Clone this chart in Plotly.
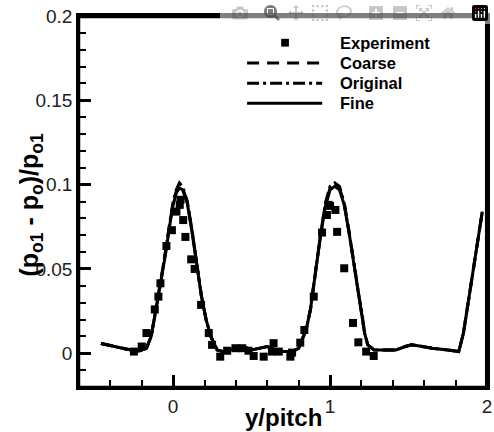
import plotly.graph_objects as go

# ---- data ----
fine_x = [-0.46, -0.4, -0.3, -0.22, -0.17, -0.14, -0.11, -0.08, -0.05, -0.02, 0.0, 0.02, 0.04, 0.06,
          0.09, 0.12, 0.15, 0.18, 0.21, 0.24, 0.28, 0.32, 0.4, 0.45, 0.5, 0.55, 0.6, 0.65, 0.7, 0.76,
          0.8, 0.83, 0.85, 0.875, 0.894, 0.91, 0.94, 0.97, 1.0, 1.03, 1.06, 1.09, 1.12, 1.157, 1.18,
          1.2, 1.22, 1.24, 1.28, 1.35, 1.42, 1.48, 1.52, 1.56, 1.65, 1.75, 1.82, 1.85, 1.895, 1.93, 1.97]
fine_y = [0.0058, 0.0045, 0.0025, 0.0012, 0.003, 0.01, 0.026, 0.04, 0.058, 0.077, 0.088, 0.095, 0.098, 0.097,
          0.089, 0.072, 0.052, 0.034, 0.02, 0.01, 0.002, 0.001, 0.003, 0.004, 0.002, 0.003, 0.004, 0.002, 0.001, 0.001,
          0.003, 0.01, 0.015, 0.026, 0.04, 0.05, 0.07, 0.087, 0.097, 0.099, 0.097, 0.088, 0.072, 0.05, 0.036,
          0.026, 0.012, 0.005, 0.002, 0.002, 0.002, 0.004, 0.005, 0.0045, 0.003, 0.002, 0.001, 0.012, 0.04, 0.06, 0.084]
coarse_y = [0.0058, 0.0045, 0.0025, 0.0012, 0.003, 0.01, 0.026, 0.041, 0.059, 0.078, 0.089, 0.096, 0.099, 0.098,
            0.09, 0.073, 0.052, 0.034, 0.02, 0.01, 0.002, 0.001, 0.003, 0.004, 0.002, 0.003, 0.004, 0.002, 0.001, 0.001,
            0.003, 0.01, 0.015, 0.026, 0.04, 0.051, 0.071, 0.088, 0.098, 0.1, 0.098, 0.089, 0.073, 0.05, 0.036,
            0.026, 0.012, 0.005, 0.002, 0.002, 0.002, 0.004, 0.005, 0.0045, 0.003, 0.002, 0.001, 0.012, 0.04, 0.06, 0.084]
original_y = [0.0058, 0.0045, 0.0025, 0.0012, 0.003, 0.01, 0.026, 0.041, 0.06, 0.079, 0.09, 0.097, 0.101, 0.099,
              0.09, 0.073, 0.053, 0.034, 0.02, 0.01, 0.002, 0.001, 0.003, 0.004, 0.002, 0.003, 0.004, 0.002, 0.001, 0.001,
              0.003, 0.01, 0.015, 0.026, 0.04, 0.051, 0.071, 0.089, 0.099, 0.101, 0.099, 0.089, 0.073, 0.051, 0.036,
              0.026, 0.012, 0.005, 0.002, 0.002, 0.002, 0.004, 0.005, 0.0045, 0.003, 0.002, 0.001, 0.012, 0.04, 0.06, 0.084]

exp_x = [-0.25, -0.2, -0.17, -0.117, -0.094, -0.081, -0.043, -0.008, 0.021, 0.042, 0.047, 0.064, 0.078,
         0.115, 0.137, 0.178, 0.227, 0.248, 0.30, 0.344, 0.397, 0.44, 0.48, 0.513, 0.577, 0.63, 0.64, 0.673,
         0.747, 0.758, 0.81, 0.836, 0.896, 0.949, 0.98, 0.99, 1.0, 1.034, 1.045, 1.09, 1.146, 1.18, 1.23, 1.278]
exp_y = [0.001, 0.004, 0.012, 0.026, 0.0336, 0.0415, 0.0636, 0.073, 0.084, 0.088, 0.091, 0.079, 0.069,
         0.0557, 0.05, 0.0287, 0.012, 0.005, -0.002, 0.0015, 0.003, 0.003, 0.0015, -0.0016, -0.002, 0.001, 0.006, 0.001,
         -0.002, 0.0004, 0.0063, 0.0138, 0.0336, 0.0716, 0.082, 0.088, 0.0874, 0.085, 0.072, 0.0504, 0.018, 0.0065, 0.001, -0.0016]

x_ticks = [0, 1, 2]
x_tick_labels = ["0", "1", "2"]
y_ticks = [0, 0.05, 0.1, 0.15, 0.2]
y_tick_labels = ["0", "0.05", "0.1", "0.15", "0.2"]
legend_names = ["Experiment", "Coarse", "Original", "Fine"]
x_title = "<b>y/pitch</b>"
y_title = "<b>(p<sub>o1</sub> - p<sub>o</sub>)/p<sub>o1</sub></b>"

FONT = "Liberation Sans, Arial, sans-serif"
LW = 3
fig = go.Figure()
fig.add_trace(go.Scatter(x=fine_x, y=coarse_y, mode="lines", line=dict(color="black", width=LW, dash="12px,8px")))
fig.add_trace(go.Scatter(x=fine_x, y=original_y, mode="lines", line=dict(color="black", width=LW, dash="12px,4px,3px,4px")))
fig.add_trace(go.Scatter(x=fine_x, y=fine_y, mode="lines", line=dict(color="black", width=LW)))
fig.add_trace(go.Scatter(x=exp_x, y=exp_y, mode="markers",
                         marker=dict(symbol="square", size=8, color="black", line=dict(width=0))))

# plot frame
fig.add_shape(type="rect", xref="paper", yref="paper", x0=0, x1=1, y0=0, y1=1,
              line=dict(color="black", width=2.5), layer="above")
fig.add_shape(type="line", xref="paper", yref="paper", x0=0, x1=1, y0=0.997, y1=0.997,
              line=dict(color="black", width=2.5), layer="above")
fig.add_shape(type="line", xref="paper", yref="paper", x0=0.998, x1=0.998, y0=0, y1=1,
              line=dict(color="black", width=2.5), layer="above")

# manual legend (paper coords)
lx0, lx1, tx = 0.412, 0.596, 0.635
rows = [0.928, 0.873, 0.819, 0.765]
dashes = [None, "12px,8px", "12px,4px,3px,4px", "solid"]
for name, yy, d in zip(legend_names, rows, dashes):
    if d is None:
        fig.add_shape(type="rect", xref="paper", yref="paper",
                      x0=0.505 - 0.0095, x1=0.505 + 0.0095, y0=yy - 0.0105, y1=yy + 0.0105,
                      fillcolor="black", line=dict(width=0))
    else:
        fig.add_shape(type="line", xref="paper", yref="paper", x0=lx0, x1=lx1, y0=yy, y1=yy,
                      line=dict(color="black", width=LW, dash=d))
    fig.add_annotation(x=tx, y=yy, xref="paper", yref="paper", text="<b>%s</b>" % name,
                       showarrow=False, xanchor="left", yanchor="middle",
                       font=dict(family=FONT, size=16.5, color="black"))

# axis titles as annotations for exact placement
fig.add_annotation(x=0.5, y=0, xref="paper", yref="paper", text=x_title, showarrow=False,
                   xanchor="center", yanchor="middle", yshift=-30,
                   font=dict(family=FONT, size=24, color="black"))
fig.add_annotation(x=0, y=0.5, xref="paper", yref="paper", text=y_title, showarrow=False,
                   textangle=-90, xanchor="center", yanchor="middle", xshift=-49, yshift=-4,
                   font=dict(family=FONT, size=25, color="black"))

axis_common = dict(showgrid=False, zeroline=False, showline=True, linecolor="black", linewidth=2.5,
                   mirror=True, ticks="inside", tickcolor="black", tickwidth=2.5, automargin=False,
                   ticklabeloverflow="allow",
                   tickfont=dict(family=FONT, size=19, color="#222"))
fig.update_xaxes(range=[-0.6, 2], tickvals=x_ticks, ticktext=x_tick_labels, ticklen=12,
                 minor=dict(dtick=0.2, ticks="inside", ticklen=7, tickwidth=2, tickcolor="black"),
                 **axis_common)
fig.update_yaxes(range=[-0.02, 0.2], tickvals=y_ticks, ticktext=y_tick_labels, ticklen=12,
                 minor=dict(dtick=0.01, ticks="inside", ticklen=7, tickwidth=2, tickcolor="black"),
                 **axis_common)
fig.update_layout(width=494, height=432, showlegend=False, plot_bgcolor="white", paper_bgcolor="white",
                  margin=dict(l=79, r=7, t=16, b=45))
# remove the default 8px page margin so the figure fills the window exactly
fig.write_html("out.html",
               post_script="document.body.style.margin='0';document.body.style.overflow='hidden';")
